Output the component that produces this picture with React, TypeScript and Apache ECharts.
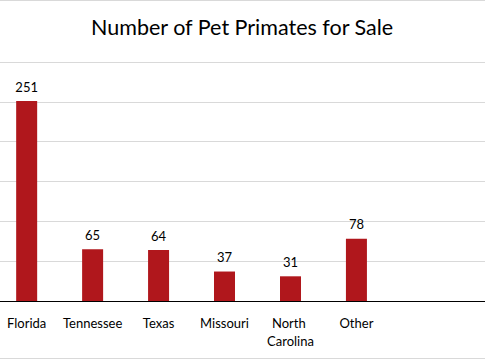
import React, { useEffect, useRef } from "react";
import * as echarts from "echarts";

const categories = ["Florida", "Tennessee", "Texas", "Missouri", "North Carolina", "Other"];
const values = [251, 65, 64, 37, 31, 78];
const emptySlots = ["", ""];
const titleText = "Number of Pet Primates for Sale";
const yMin = 0;
const yMax = 300;
const yInterval = 50;

export default function App() {
  const ref = useRef<HTMLDivElement>(null);
  useEffect(() => {
    if (!ref.current) return;
    const chart = echarts.init(ref.current, null, { renderer: "svg" });
    const font = "Lato, 'Liberation Sans', sans-serif";
    chart.setOption({
      animation: false,
      backgroundColor: "#ffffff",
      title: {
        text: titleText,
        left: 95,
        top: 11,
        textStyle: { fontFamily: font, fontSize: 21.5, fontWeight: "normal", color: "#000000" },
      },
      graphic: [
        { type: "line", shape: { x1: 0, y1: 0.5, x2: 533, y2: 0.5 }, style: { stroke: "#d9d9d9", lineWidth: 1 } },
        { type: "line", shape: { x1: 0, y1: 358.5, x2: 533, y2: 358.5 }, style: { stroke: "#d9d9d9", lineWidth: 1 } },
      ],
      grid: { left: 0, right: 0, top: 62, bottom: 59, containLabel: false },
      xAxis: {
        type: "category",
        data: [...categories, ...emptySlots],
        axisLine: { show: true, lineStyle: { color: "#000000", width: 1 } },
        axisTick: { show: false },
        axisLabel: {
          interval: 0,
          margin: 13,
          fontFamily: font,
          fontSize: 13,
          color: "#000000",
          lineHeight: 18,
          width: 66,
          overflow: "break",
        },
      },
      yAxis: {
        type: "value",
        min: yMin,
        max: yMax,
        interval: yInterval,
        axisLabel: { show: false },
        axisLine: { show: false },
        axisTick: { show: false },
        splitLine: { show: true, lineStyle: { color: "#d9d9d9", width: 1 } },
      },
      series: [
        {
          type: "bar",
          data: [...values, ...emptySlots.map(() => null)],
          barWidth: 21,
          itemStyle: { color: "#B0171C" },
          label: {
            show: true,
            position: "top",
            distance: 8,
            fontFamily: font,
            fontSize: 13,
            color: "#000000",
          },
        },
      ],
    });
    return () => chart.dispose();
  }, []);
  return (
    <div style={{ position: "absolute", left: 0, top: 0, width: 485, height: 360, overflow: "hidden" }}>
      <div
        ref={ref}
        style={{ position: "absolute", left: -9, top: 0, width: 533, height: 360 }}
      />
    </div>
  );
}
